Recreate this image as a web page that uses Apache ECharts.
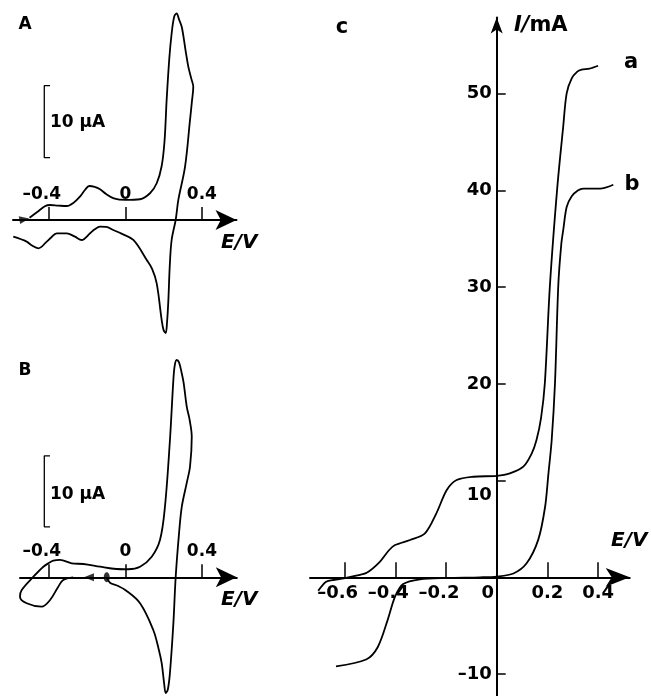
<!DOCTYPE html>
<html><head><meta charset="utf-8">
<script src="https://cdn.jsdelivr.net/npm/echarts@6/dist/echarts.min.js"></script>
<style>html,body{margin:0;padding:0;background:#fff}#c{width:651px;height:696px}</style>
</head><body><div id="c"></div>
<script>
// ---------- data ----------
// Panel A cyclic voltammogram (E/V, I/uA)
const cvA = [[-0.50,0.3],[-0.46,1.1],[-0.42,1.9],[-0.393,2.08],[-0.35,2.0],[-0.306,1.94],[-0.27,2.4],[-0.237,3.24],[-0.21,4.2],[-0.188,4.72],[-0.16,4.6],[-0.132,4.26],[-0.10,3.6],[-0.06,3.0],[0,2.78],[0.077,2.88],[0.129,3.71],[0.164,5.10],[0.19,7.5],[0.205,11],[0.216,16.7],[0.23,22.5],[0.242,25.9],[0.255,28.2],[0.268,28.7],[0.28,27.9],[0.295,26.8],[0.315,23.5],[0.329,21.3],[0.345,19.6],[0.355,18.5],[0.348,16.5],[0.338,13.9],[0.312,7.4],[0.277,2.78],[0.263,0],[0.242,-2.78],[0.232,-6.5],[0.225,-11.1],[0.218,-14.2],[0.211,-15.7],[0.200,-15.3],[0.190,-13.9],[0.164,-8.8],[0.14,-6.8],[0.112,-5.56],[0.042,-2.78],[-0.02,-1.9],[-0.063,-1.39],[-0.10,-0.95],[-0.132,-0.93],[-0.16,-1.3],[-0.184,-1.85],[-0.228,-2.78],[-0.263,-2.32],[-0.306,-1.85],[-0.358,-1.85],[-0.39,-2.5],[-0.41,-3.0],[-0.454,-3.93],[-0.49,-3.5],[-0.515,-3.0],[-0.585,-2.32]];
// Panel B cyclic voltammogram (E/V, I/uA)
const cvB = [[-0.097,0],[-0.08,-0.76],[-0.04,-1.2],[0,-1.79],[0.077,-3.66],[0.146,-7.42],[0.175,-10.2],[0.190,-12.1],[0.203,-15.0],[0.211,-16.3],[0.222,-15.8],[0.233,-13.5],[0.251,-6.48],[0.263,0],[0.28,6.0],[0.295,9.94],[0.320,13.2],[0.338,15.6],[0.347,19.8],[0.335,22.3],[0.321,24.0],[0.305,27.3],[0.295,28.7],[0.280,30.3],[0.268,30.6],[0.258,29.8],[0.251,27.8],[0.233,19.3],[0.207,9.94],[0.181,5.25],[0.138,2.9],[0.077,1.49],[0.016,1.13],[-0.06,1.2],[-0.132,1.49],[-0.219,1.87],[-0.280,1.97],[-0.341,2.44],[-0.376,2.34],[-0.40,2.0],[-0.428,1.49],[-0.480,0.08],[-0.541,-1.79],[-0.550,-2.73],[-0.515,-3.66],[-0.437,-4.14],[-0.393,-3.2],[-0.350,-1.32],[-0.324,-0.38],[-0.272,0]];
// Panel c polarization curves (E/V, I/mA)
const curveA = [[-0.704,-1.39],[-0.673,-0.45],[-0.640,-0.25],[-0.603,-0.1],[-0.554,0.17],[-0.513,0.47],[-0.461,1.61],[-0.425,2.8],[-0.401,3.34],[-0.342,3.86],[-0.283,4.55],[-0.238,6.62],[-0.197,9.03],[-0.158,10.06],[-0.092,10.40],[0,10.5],[0.052,10.75],[0.105,11.44],[0.138,12.8],[0.157,14.2],[0.175,16.5],[0.190,20.1],[0.210,30.2],[0.239,40.3],[0.262,46.5],[0.276,50.05],[0.296,51.6],[0.318,52.3],[0.335,52.5],[0.366,52.6],[0.40,52.9]];
const curveB = [[-0.634,-9.2],[-0.515,-8.5],[-0.469,-7.2],[-0.430,-4.4],[-0.401,-2.0],[-0.369,-0.69],[-0.303,-0.2],[-0.197,-0.07],[-0.066,0],[0,0.08],[0.066,0.4],[0.118,1.45],[0.164,3.9],[0.191,7.3],[0.204,10.7],[0.217,14.2],[0.230,20.1],[0.243,30.2],[0.255,34.5],[0.263,36.0],[0.276,38.3],[0.296,39.4],[0.320,40.0],[0.342,40.2],[0.408,40.2],[0.460,40.6]];
// tick values
const ticksAB = [-0.4, 0, 0.4];
const ticksCX = [-0.6, -0.4, -0.2, 0, 0.2, 0.4];
const ticksCY = [-10, 10, 20, 30, 40, 50];
// scale bars (10 uA) and scan markers
const scaleBarA = [[-0.393,18.65],[-0.423,18.65],[-0.423,8.65],[-0.393,8.65]];
const scaleBarB = [[-0.393,17.1],[-0.423,17.1],[-0.423,7.1],[-0.393,7.1]];
const startA = [[-0.588,0]];
const arrowA = [[-0.527,0.1]];
const startB = [[-0.097,0]];
const arrowB = [[-0.19,0]];
const labelTexts = {A:'A', B:'B', C:'c', a:'a', b:'b', scale:'10 μA'};

// ---------- chart ----------
const F = '"DejaVu Sans", sans-serif';
const fmtNum = v => (v < 0 ? '–' : '') + String(Math.abs(Math.round(v*10)/10));
const black = '#000';

function abXAxis(gi, min, max, off) {
  return {
    gridIndex: gi, type: 'value', min: min, max: max, position: 'bottom', offset: off,
    axisLine: {onZero: false, lineStyle: {color: black, width: 2}, symbol: ['none','arrow'], symbolSize: [15, 21]},
    axisTick: {inside: true, length: 13, lineStyle: {color: black, width: 1.5}, customValues: ticksAB},
    axisLabel: {inside: true, margin: 17, customValues: ticksAB, color: black,
      fontFamily: F, fontWeight: 'bold', fontSize: 17,
      formatter: v => v < 0 ? '{n|' + fmtNum(v) + '}' : '{p|' + fmtNum(v) + '}',
      rich: {n: {fontFamily: F, fontWeight: 'bold', fontSize: 17, color: black, padding: [0,14,0,0]},
             p: {fontFamily: F, fontWeight: 'bold', fontSize: 17, color: black}}},
    splitLine: {show: false}
  };
}

const chart = echarts.init(document.getElementById('c'), null, {renderer: 'canvas'});
const lineStyleCurve = {color: black, width: 1.8};

chart.setOption({
  animation: false,
  backgroundColor: '#fff',
  grid: [
    {left: 13, top: 5, width: 223.5, height: 335},
    {left: 20, top: 350, width: 216.8, height: 346},
    {left: 310, top: 17.5, width: 319.7, height: 678.5}
  ],
  xAxis: [
    abXAxis(0, -0.5864, 0.5807, -120),
    abXAxis(1, -0.5499, 0.5822, -118.7),
    {
      gridIndex: 2, type: 'value', min: -0.7365, max: 0.5247, position: 'bottom', offset: -118.7,
      axisLine: {onZero: false, lineStyle: {color: black, width: 2}, symbol: ['none','arrow'], symbolSize: [14, 24]},
      axisTick: {inside: true, length: 15, lineStyle: {color: black, width: 1.5}, customValues: ticksCX},
      axisLabel: {margin: 7, customValues: ticksCX, color: black,
        formatter: v => v < 0 ? '{n|' + fmtNum(v) + '}' : (v === 0 ? '{z|0}' : '{p|' + fmtNum(v) + '}'),
        rich: {n: {fontFamily: F, fontWeight: 'bold', fontSize: 18, color: black, padding: [0,14,0,0]},
               z: {fontFamily: F, fontWeight: 'bold', fontSize: 18, color: black, padding: [0,18,0,0]},
               p: {fontFamily: F, fontWeight: 'bold', fontSize: 18, color: black}}},
      splitLine: {show: false}
    }
  ],
  yAxis: [
    {gridIndex: 0, type: 'value', min: -16.67, max: 29.86, show: false},
    {gridIndex: 1, type: 'value', min: -16.72, max: 32.01, show: false},
    {
      gridIndex: 2, type: 'value', min: -12.27, max: 57.89, position: 'left', offset: -186.7,
      axisLine: {onZero: false, lineStyle: {color: black, width: 2}, symbol: ['none','arrow'], symbolSize: [9, 16]},
      axisTick: {inside: true, length: 9, lineStyle: {color: black, width: 1.5}, customValues: ticksCY},
      axisLabel: {margin: 5, customValues: ticksCY, color: black,
        formatter: v => v === 10 ? '{d|10}' : '{p|' + fmtNum(v) + '}',
        rich: {d: {fontFamily: F, fontWeight: 'bold', fontSize: 18, color: black, padding: [30,0,0,0]},
               p: {fontFamily: F, fontWeight: 'bold', fontSize: 18, color: black}}},
      splitLine: {show: false}
    }
  ],
  series: [
    {type: 'line', xAxisIndex: 0, yAxisIndex: 0, data: cvA, showSymbol: false, smooth: 0.35, lineStyle: lineStyleCurve, silent: true},
    {type: 'line', xAxisIndex: 1, yAxisIndex: 1, data: cvB, showSymbol: false, smooth: 0.35, lineStyle: lineStyleCurve, silent: true},
    {type: 'line', xAxisIndex: 2, yAxisIndex: 2, data: curveA, showSymbol: false, smooth: 0.3, lineStyle: lineStyleCurve, silent: true},
    {type: 'line', xAxisIndex: 2, yAxisIndex: 2, data: curveB, showSymbol: false, smooth: 0.3, lineStyle: lineStyleCurve, silent: true},
    {type: 'line', xAxisIndex: 0, yAxisIndex: 0, data: scaleBarA, showSymbol: false, lineStyle: {color: black, width: 1.3}, silent: true},
    {type: 'line', xAxisIndex: 1, yAxisIndex: 1, data: scaleBarB, showSymbol: false, lineStyle: {color: black, width: 1.3}, silent: true},
    {type: 'scatter', xAxisIndex: 0, yAxisIndex: 0, data: startA, symbol: 'circle', symbolSize: [6, 10], itemStyle: {color: black}, silent: true},
    {type: 'scatter', xAxisIndex: 0, yAxisIndex: 0, data: arrowA, symbol: 'triangle', symbolSize: [8, 10], symbolRotate: -80, itemStyle: {color: black}, silent: true},
    {type: 'scatter', xAxisIndex: 1, yAxisIndex: 1, data: startB, symbol: 'circle', symbolSize: [6, 10], itemStyle: {color: black}, silent: true},
    {type: 'scatter', xAxisIndex: 1, yAxisIndex: 1, data: arrowB, symbol: 'triangle', symbolSize: [8, 10], symbolRotate: 90, itemStyle: {color: black}, silent: true}
  ],
  graphic: [
    {type: 'text', x: 25, y: 25, style: {text: labelTexts.A, align: 'center', verticalAlign: 'middle', font: 'bold 17px "DejaVu Sans"', fill: black}},
    {type: 'text', x: 25, y: 371, style: {text: labelTexts.B, align: 'center', verticalAlign: 'middle', font: 'bold 17px "DejaVu Sans"', fill: black}},
    {type: 'text', x: 342, y: 28, style: {text: labelTexts.C, align: 'center', verticalAlign: 'middle', font: 'bold 21px "DejaVu Sans"', fill: black}},
    {type: 'text', x: 631, y: 63, style: {text: labelTexts.a, align: 'center', verticalAlign: 'middle', font: 'bold 21px "DejaVu Sans"', fill: black}},
    {type: 'text', x: 632, y: 185, style: {text: labelTexts.b, align: 'center', verticalAlign: 'middle', font: 'bold 21px "DejaVu Sans"', fill: black}},
    {type: 'text', x: 50, y: 123, style: {text: labelTexts.scale, align: 'left', verticalAlign: 'middle', font: 'bold 17px "DejaVu Sans"', fill: black}},
    {type: 'text', x: 50, y: 495, style: {text: labelTexts.scale, align: 'left', verticalAlign: 'middle', font: 'bold 17px "DejaVu Sans"', fill: black}},
    {type: 'text', x: 221, y: 243, style: {text: 'E/V', align: 'left', verticalAlign: 'middle', font: 'italic bold 20px "DejaVu Sans"', fill: black}},
    {type: 'text', x: 221, y: 600, style: {text: 'E/V', align: 'left', verticalAlign: 'middle', font: 'italic bold 20px "DejaVu Sans"', fill: black}},
    {type: 'text', x: 611, y: 541, style: {text: 'E/V', align: 'left', verticalAlign: 'middle', font: 'italic bold 20px "DejaVu Sans"', fill: black}},
    {type: 'text', x: 514, y: 26, style: {text: '{i|I/}{n|mA}', align: 'left', verticalAlign: 'middle',
      rich: {i: {fontFamily: 'DejaVu Sans', fontStyle: 'italic', fontWeight: 'bold', fontSize: 21, fill: black},
             n: {fontFamily: 'DejaVu Sans', fontWeight: 'bold', fontSize: 21, fill: black}}}}
  ]
});
</script>
</body></html>
